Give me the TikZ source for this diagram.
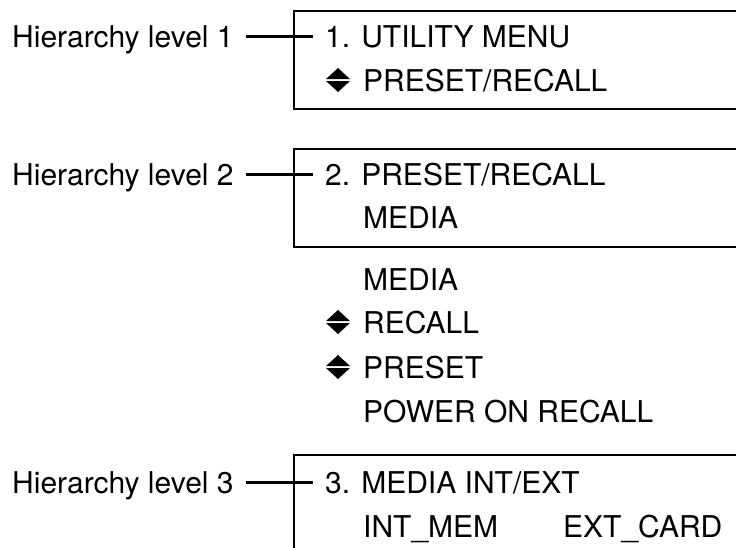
\documentclass[tikz,border=0pt]{standalone}
\usepackage{fontspec}
\setmainfont{TeX Gyre Heros}
\usetikzlibrary{positioning}
\tikzstyle{frame}=[line width=2.6pt, line cap=butt]
\tikzstyle{level label}=[anchor=base west, inner xsep=12pt, inner ysep=0pt,
  text height=21pt, text depth=0pt, font=\fontsize{30}{36}\selectfont]
\tikzstyle{menu title}=[level label]
\tikzstyle{menu item}=[anchor=base west, inner sep=0pt, font=\fontsize{30}{36}\selectfont]
\tikzstyle{leader}=[line width=2.6pt]
\tikzset{
  updown/.pic={
    \fill (-25,-23) -- (-13,-12) -- (-37,-12) -- cycle;
    \fill (-37,-10) -- (-13,-10) -- (-25,1) -- cycle;
  }
}

\begin{document}
\begin{tikzpicture}[x=1pt, y=-1pt]
      \useasboundingbox (0,0) rectangle (736,547);

      % level 1
      \coordinate (box1_tr) at (740, 11);
      \coordinate (box1_br) at (740, 109);
      \draw[frame] (box1_tr) -| (294, 109) -- (box1_br);
      \node[level label] (lvl1) at (0, 47) {Hierarchy level 1};
      \node[menu title] (title1) at (313, 47) {1. UTILITY MENU};
      \node[menu item] (item1) at (363, 91) {PRESET/RECALL};
      \pic at (item1.base west) {updown};
      \draw[leader] (lvl1.east) -- (title1.west);

      % level 2
      \coordinate (box2_tr) at (740, 149);
      \coordinate (box2_br) at (740, 247);
      \draw[frame] (box2_tr) -| (294, 247) -- (box2_br);
      \node[level label] (lvl2) at (0, 185) {Hierarchy level 2};
      \node[menu title] (title2) at (313, 185) {2. PRESET/RECALL};
      \node[menu item] (item2) at (363, 228) {MEDIA};
      \draw[leader] (lvl2.east) -- (title2.west);

      % choices below level 2
      \node[menu item] (media) at (363, 290) {MEDIA};
      \node[menu item] (recall) at (363, 333) {RECALL};
      \node[menu item] (preset) at (363, 378) {PRESET};
      \node[menu item] (power) at (363, 422) {POWER ON RECALL};
      \pic at (recall.base west) {updown};
      \pic at (preset.base west) {updown};

      % level 3
      \coordinate (box3_tr) at (740, 455);
      \draw[frame] (box3_tr) -| (294, 560);
      \node[level label] (lvl3) at (0, 493) {Hierarchy level 3};
      \node[menu title] (title3) at (313, 493) {3. MEDIA INT/EXT};
      \node[menu item] (intmem) at (363, 537) {INT\_MEM};
      \node[menu item] (extcard) at (563, 537) {EXT\_CARD};
      \draw[leader] (lvl3.east) -- (title3.west);
    \end{tikzpicture}
\end{document}
